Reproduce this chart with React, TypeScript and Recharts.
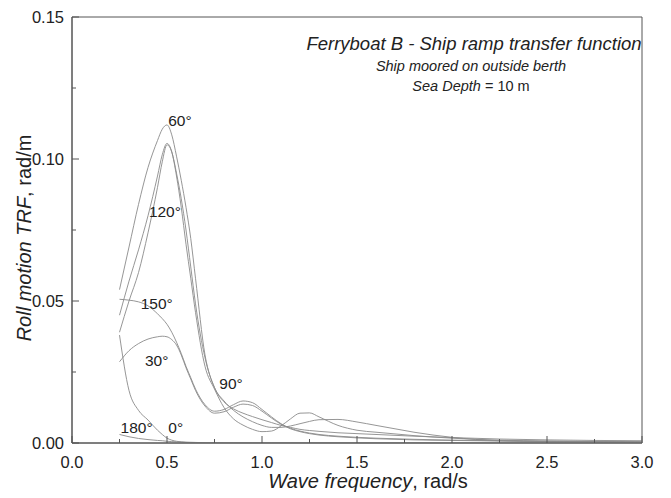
import React from 'react';
import { LineChart, Line, XAxis, YAxis, ReferenceArea, ReferenceDot, Customized } from 'recharts';

// Wave frequency grid (rad/s)
const freq = [0.25, 0.3, 0.35, 0.4, 0.45, 0.475, 0.5, 0.525, 0.55, 0.575, 0.6, 0.625, 0.65, 0.7, 0.75, 0.8, 0.85, 0.9, 0.95, 1.0, 1.05, 1.1, 1.15, 1.2, 1.25, 1.3, 1.4, 1.5, 1.6, 1.7, 1.8, 2.0, 2.25, 2.5, 2.75, 3.0];

// Roll motion TRF (rad/m) per heading
const roll0 = [0.003, 0.0022, 0.0016, 0.0012, 0.0009, 0.0008, 0.0006, 0.0005, 0.0004, 0.00035, 0.0003, 0.00025, 0.0002, 0.0001, 0.0001, 0, 0, 0, 0, 0, 0, 0, 0, 0, 0, 0, 0, 0, 0, 0, 0, 0, 0, 0, 0, 0];
const roll30 = [0.0286, 0.0325, 0.035, 0.0366, 0.0374, 0.0376, 0.0374, 0.0364, 0.0345, 0.031, 0.0265, 0.0225, 0.0185, 0.013, 0.0105, 0.011, 0.0126, 0.0137, 0.0132, 0.0112, 0.0088, 0.0066, 0.005, 0.004, 0.0033, 0.0028, 0.0022, 0.0018, 0.0015, 0.0013, 0.0011, 0.0009, 0.0007, 0.0005, 0.0004, 0.0003];
const roll60 = [0.054, 0.069, 0.084, 0.097, 0.1065, 0.1105, 0.112, 0.1085, 0.101, 0.0925, 0.083, 0.072, 0.058, 0.031, 0.0195, 0.0145, 0.012, 0.0105, 0.0093, 0.0082, 0.0072, 0.0062, 0.0055, 0.0048, 0.0044, 0.0041, 0.0036, 0.0033, 0.003, 0.0027, 0.0024, 0.0019, 0.0014, 0.0011, 0.0009, 0.0008];
const roll90 = [0.039, 0.05, 0.06, 0.074, 0.09, 0.099, 0.105, 0.1025, 0.095, 0.086, 0.075, 0.062, 0.049, 0.03, 0.0195, 0.0148, 0.0115, 0.0092, 0.0075, 0.0062, 0.0055, 0.0055, 0.006, 0.0068, 0.0076, 0.0082, 0.0083, 0.0074, 0.0062, 0.005, 0.0038, 0.002, 0.0008, 0.0005, 0.0004, 0.0003];
const roll120 = [0.045, 0.057, 0.068, 0.08, 0.094, 0.1015, 0.1055, 0.1025, 0.094, 0.083, 0.07, 0.058, 0.046, 0.027, 0.019, 0.0125, 0.0085, 0.0063, 0.0048, 0.004, 0.0042, 0.006, 0.0085, 0.0105, 0.0106, 0.0092, 0.0062, 0.0045, 0.0038, 0.0032, 0.0026, 0.0017, 0.001, 0.0007, 0.0005, 0.0004];
const roll150 = [0.0506, 0.0503, 0.0497, 0.0483, 0.0455, 0.0438, 0.0418, 0.039, 0.0355, 0.0315, 0.027, 0.023, 0.019, 0.0135, 0.0112, 0.0118, 0.0135, 0.0148, 0.0142, 0.0118, 0.0092, 0.0068, 0.0052, 0.0042, 0.0035, 0.003, 0.0024, 0.002, 0.0017, 0.0015, 0.0013, 0.001, 0.0008, 0.0006, 0.0005, 0.0004];
const roll180 = [0.038, 0.0185, 0.0115, 0.0081, 0.0045, 0.003, 0.0017, 0.001, 0.0006, 0.0004, 0.0002, 0.00015, 0.0001, 0, 0, 0, 0, 0, 0, 0, 0, 0, 0, 0, 0, 0, 0, 0, 0, 0, 0, 0, 0, 0, 0, 0];

const seriesKeys = ['h0', 'h30', 'h60', 'h90', 'h120', 'h150', 'h180'];
const seriesValues = [roll0, roll30, roll60, roll90, roll120, roll150, roll180];

// Curve annotations (heading text at data position)
const headingLabels = ['60°', '120°', '150°', '30°', '90°', '180°', '0°'];
const headingLabelFreq = [0.568, 0.489, 0.446, 0.446, 0.837, 0.34, 0.546];
const headingLabelRoll = [0.1134, 0.0814, 0.0492, 0.0292, 0.0211, 0.0055, 0.0055];

const xTicks = [0, 0.25, 0.5, 0.75, 1.0, 1.25, 1.5, 1.75, 2.0, 2.25, 2.5, 2.75, 3.0];
const yTicks = [0, 0.025, 0.05, 0.075, 0.1, 0.125, 0.15];

const data = freq.map((f, i) => {
  const row: any = { f };
  seriesKeys.forEach((k, j) => { row[k] = seriesValues[j][i]; });
  return row;
});

const FONT = '"Liberation Sans", Arial, Helvetica, sans-serif';
const AXIS = '#555';
const CURVE = '#8a8a8a';

const XTick = (props: any) => {
  const { x, y, payload } = props;
  const v = payload.value;
  const major = Math.abs(v * 2 - Math.round(v * 2)) < 1e-6;
  return (
    <g>
      <line x1={x} x2={x} y1={y} y2={y - (major ? 7 : 4)} stroke={AXIS} strokeWidth={1} />
      {major && (
        <text x={x} y={y + 25} textAnchor="middle" fontSize={16.5} fill="#222" fontFamily={FONT}>
          {v.toFixed(1)}
        </text>
      )}
    </g>
  );
};

const YTick = (props: any) => {
  const { x, y, payload } = props;
  const v = payload.value;
  const major = Math.abs(v * 20 - Math.round(v * 20)) < 1e-6;
  return (
    <g>
      <line x1={x} x2={x + (major ? 7 : 4)} y1={y} y2={y} stroke={AXIS} strokeWidth={1} />
      {major && (
        <text x={x - 8} y={y + 6} textAnchor="end" fontSize={16.5} fill="#222" fontFamily={FONT}>
          {v.toFixed(2)}
        </text>
      )}
    </g>
  );
};

const Texts = () => (
  <g fontFamily={FONT} fill="#222">
    <text x={466} y={42} textAnchor="middle" fontSize={18.5} fontStyle="italic">
      Ferryboat B - Ship ramp transfer function
    </text>
    <text x={463} y={63} textAnchor="middle" fontSize={14.5} fontStyle="italic">
      Ship moored on outside berth
    </text>
    <text x={463} y={83} textAnchor="middle" fontSize={14.5}>
      <tspan fontStyle="italic">Sea Depth</tspan> = 10 m
    </text>
    <text x={360} y={480} textAnchor="middle" fontSize={20}>
      <tspan fontStyle="italic">Wave frequency</tspan>, rad/s
    </text>
    <text transform="translate(23,230) rotate(-90)" textAnchor="middle" fontSize={20}>
      <tspan fontStyle="italic">Roll motion TRF</tspan>, rad/m
    </text>
  </g>
);

export default function App() {
  return (
    <LineChart width={655} height={490} data={data} margin={{ top: 9, right: 21, bottom: 10, left: 10 }}>
      <XAxis
        dataKey="f"
        type="number"
        domain={[0, 3]}
        ticks={xTicks}
        interval={0}
        allowDataOverflow
        height={45}
        tickSize={0}
        tickMargin={0}
        tickLine={false}
        tick={<XTick />}
        axisLine={{ stroke: AXIS, strokeWidth: 1 }}
      />
      <YAxis
        type="number"
        domain={[0, 0.15]}
        ticks={yTicks}
        interval={0}
        allowDataOverflow
        width={54}
        tickSize={0}
        tickMargin={0}
        tickLine={false}
        tick={<YTick />}
        axisLine={{ stroke: AXIS, strokeWidth: 1 }}
      />
      <ReferenceArea x1={0} x2={3} y1={0} y2={0.15} fill="none" stroke={AXIS} strokeWidth={1} />
      {seriesKeys.map((k) => (
        <Line
          key={k}
          dataKey={k}
          type="monotone"
          stroke={CURVE}
          strokeWidth={0.9}
          dot={false}
          activeDot={false}
          isAnimationActive={false}
        />
      ))}
      {headingLabels.map((t, i) => (
        <ReferenceDot
          key={t}
          x={headingLabelFreq[i]}
          y={headingLabelRoll[i]}
          r={0}
          fill="none"
          stroke="none"
          label={{ value: t, position: 'center', fontSize: 15.5, fill: '#222', fontFamily: FONT }}
        />
      ))}
      <Customized component={Texts} />
    </LineChart>
  );
}
